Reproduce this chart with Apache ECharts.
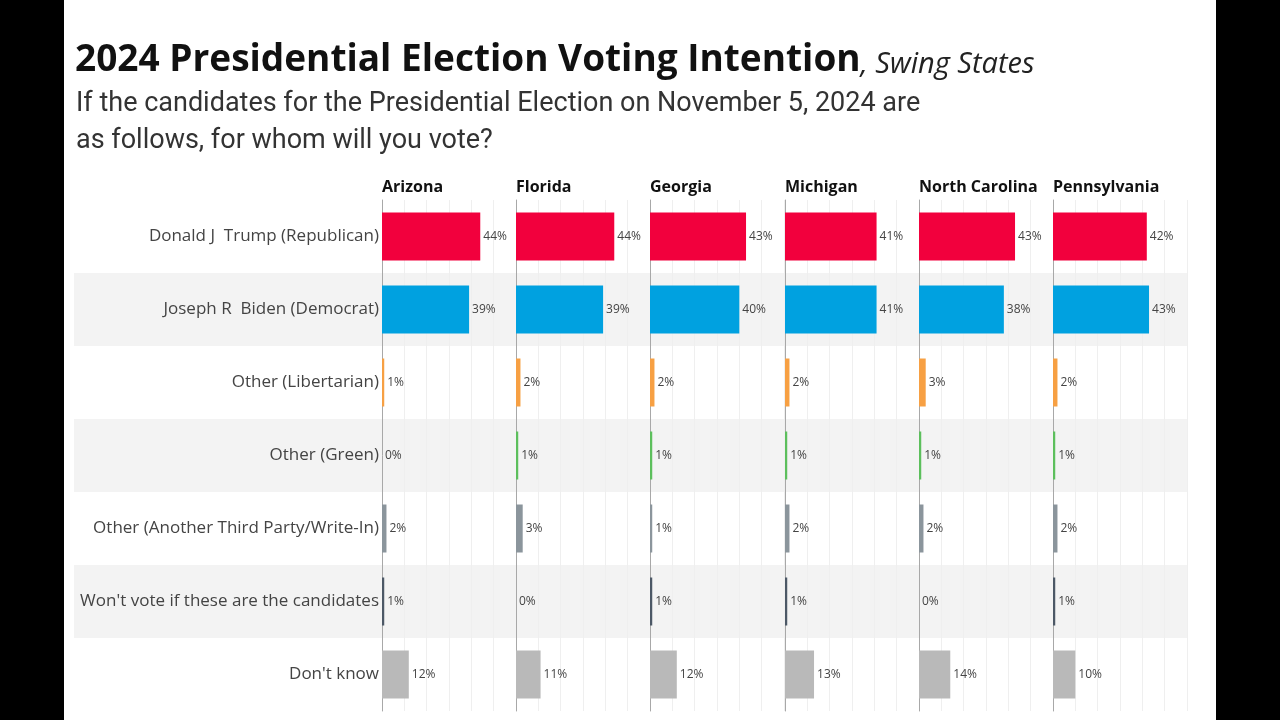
<!DOCTYPE html>
<html>
<head>
<meta charset="utf-8">
<script src="https://cdn.jsdelivr.net/npm/echarts@6/dist/echarts.min.js"></script>
<style>
  html, body { margin: 0; padding: 0; background: #000; }
  #page { position: absolute; left: 64px; top: 0; width: 1152px; height: 720px; background: #fff; }
  #chart { position: absolute; left: 0; top: 0; width: 1280px; height: 720px; }
</style>
</head>
<body>
<div id="page"></div>
<div id="chart"></div>
<script>
const categories = [
  'Donald J  Trump (Republican)',
  'Joseph R  Biden (Democrat)',
  'Other (Libertarian)',
  'Other (Green)',
  'Other (Another Third Party/Write-In)',
  "Won't vote if these are the candidates",
  "Don't know"
];
const states = ['Arizona', 'Florida', 'Georgia', 'Michigan', 'North Carolina', 'Pennsylvania'];
const arizona       = [44, 39, 1, 0, 2, 1, 12];
const florida       = [44, 39, 2, 1, 3, 0, 11];
const georgia       = [43, 40, 2, 1, 1, 1, 12];
const michigan      = [41, 41, 2, 1, 2, 1, 13];
const northCarolina = [43, 38, 3, 1, 2, 0, 14];
const pennsylvania  = [42, 43, 2, 1, 2, 1, 10];
const stateValues = [arizona, florida, georgia, michigan, northCarolina, pennsylvania];

const rowColors = ['#f2003d', '#00a1e0', '#f7a043', '#5cbf5c', '#8b959c', '#4c5866', '#b9b9b9'];

const chart = echarts.init(document.getElementById('chart'));

const TOP = 200, ROWH = 73, H = ROWH * categories.length;
const PANEL0 = 382, STEP = 134.2, PW = 134;

const grids = [], xAxes = [], yAxes = [], series = [], titles = [];

titles.push({
  left: 75, top: 42, padding: 0,
  text: '{a|2024 Presidential Election Voting Intention}{b|, Swing States}',
  textStyle: {
    rich: {
      a: { fontFamily: 'Open Sans', fontWeight: 'bold', fontSize: 37, color: '#111' },
      b: { fontFamily: 'Open Sans', fontStyle: 'italic', fontWeight: 'normal', fontSize: 29, color: '#222', padding: [8, 0, 0, 0] }
    }
  }
});
titles.push({
  left: 76, top: 86, padding: 0,
  text: 'If the candidates for the Presidential Election on November 5, 2024 are\nas follows, for whom will you vote?',
  textStyle: { fontFamily: 'Roboto', fontWeight: 'normal', fontSize: 27, lineHeight: 37, color: '#333' }
});

// background band grid
grids.push({ left: 74, top: TOP, width: 1187 - 74, height: H });
xAxes.push({ gridIndex: 0, type: 'value', show: false });
yAxes.push({
  gridIndex: 0, type: 'category', data: categories, inverse: true,
  axisLine: { show: false }, axisTick: { show: false }, axisLabel: { show: false },
  splitArea: { show: true, areaStyle: { color: ['rgba(0,0,0,0)', '#f3f3f3'] } }
});

states.forEach((st, i) => {
  const left = Math.round(PANEL0 + i * STEP);
  const gi = i + 1;
  grids.push({ left: left, top: TOP, width: PW, height: H });
  xAxes.push({
    gridIndex: gi, type: 'value', min: 0, max: 60, interval: 10,
    axisLine: { show: false }, axisTick: { show: false }, axisLabel: { show: false },
    splitLine: { show: true, lineStyle: { color: '#efefef', width: 1 } }
  });
  yAxes.push({
    gridIndex: gi, type: 'category', data: categories, inverse: true,
    axisLine: { show: true, lineStyle: { color: '#a8a8a8', width: 1 } },
    axisTick: { show: false },
    axisLabel: {
      show: i === 0, margin: 3, fontFamily: 'Open Sans', fontSize: 17, color: '#444'
    }
  });
  series.push({
    type: 'bar', xAxisIndex: gi, yAxisIndex: gi,
    data: stateValues[i], barWidth: 48,
    itemStyle: { color: p => rowColors[p.dataIndex] },
    label: {
      show: true, position: 'right', distance: 3, formatter: '{c}%',
      fontFamily: 'Open Sans', fontSize: 12, color: '#444'
    }
  });
  titles.push({
    left: left, top: 179, padding: 0, text: st,
    textStyle: { fontFamily: 'Open Sans', fontWeight: 'bold', fontSize: 16, color: '#111' }
  });
});

chart.setOption({
  backgroundColor: 'transparent',
  animation: false,
  title: titles,
  grid: grids,
  xAxis: xAxes,
  yAxis: yAxes,
  series: series
});
</script>
</body>
</html>
